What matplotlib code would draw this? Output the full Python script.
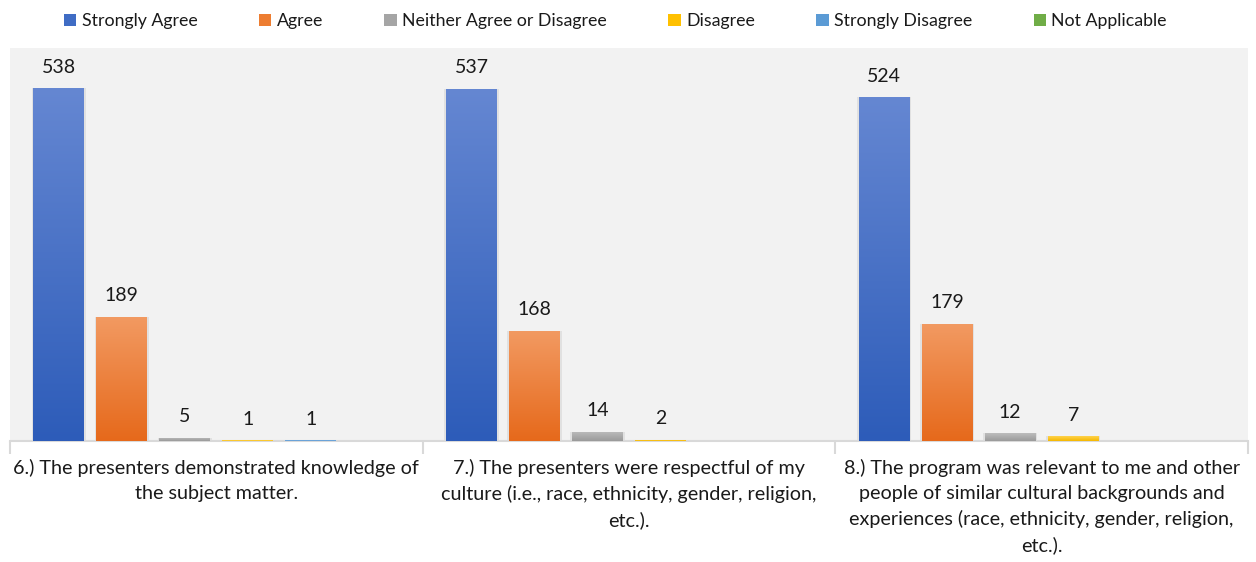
import numpy as np
import matplotlib
matplotlib.use("Agg")
import matplotlib.pyplot as plt
from matplotlib.patches import Patch
from matplotlib.colors import LinearSegmentedColormap

categories = [
    "6.) The presenters demonstrated knowledge of\nthe subject matter.",
    "7.) The presenters were respectful of my\nculture (i.e., race, ethnicity, gender, religion,\netc.).",
    "8.) The program was relevant to me and other\npeople of similar cultural backgrounds and\nexperiences (race, ethnicity, gender, religion,\netc.).",
]
series_names = ["Strongly Agree", "Agree", "Neither Agree or Disagree",
                "Disagree", "Strongly Disagree", "Not Applicable"]
strongly_agree = [538, 537, 524]
agree = [189, 168, 179]
neither = [5, 14, 12]
disagree = [1, 2, 7]
strongly_disagree = [1, None, None]
not_applicable = [None, None, None]
series_values = [strongly_agree, agree, neither, disagree, strongly_disagree, not_applicable]

legend_colors = ["#3f6cc4", "#ed7d31", "#a5a5a5", "#ffc000", "#5b9bd5", "#70ad47"]
grad_top = ["#6587d2", "#f29a62", "#bdbdbd", "#ffd24d", "#7fb2e0", "#8cc06a"]
grad_bot = ["#2d5cb9", "#e6691b", "#9a9a9a", "#f5b800", "#4a8ccb", "#5f9a3a"]

plt.rcParams['font.family'] = ['Lato', 'DejaVu Sans']

fig = plt.figure(figsize=(12.56, 5.62), dpi=100)
ax = fig.add_axes([10/1256, (562-441)/562, (1248-10)/1256, (441-48)/562])
ax.set_facecolor("#f2f2f2")

n = len(series_names)
spacing = 63/412.7
width = 51/412.7
x = np.arange(len(categories))
ax.set_xlim(-0.5, len(categories)-0.5)
ax.set_ylim(0, 599)

for i, (name, vals) in enumerate(zip(series_names, series_values)):
    offs = (i - (n-1)/2) * spacing
    for j, v in enumerate(vals):
        if v is None:
            continue
        xc = x[j] + offs
        # soft shadow
        ax.bar(xc, v, width=width*1.06, color="#d6d6d6", alpha=0.6, zorder=1)
        bars = ax.bar(xc, v, width=width, color=legend_colors[i], zorder=2)
        cmap = LinearSegmentedColormap.from_list("g", [grad_bot[i], grad_top[i]])
        grad = np.linspace(0, 1, 256).reshape(-1, 1)
        im = ax.imshow(grad, extent=[xc-width/2, xc+width/2, 0, v], origin="lower",
                       cmap=cmap, aspect="auto", zorder=3)
        im.set_clip_path(bars.patches[0])
        ax.annotate(str(v), (xc, v), xytext=(0, 9), textcoords="offset points",
                    ha="center", va="bottom", fontsize=14, color="#1a1a1a", zorder=4)

for s in ["top", "right", "left"]:
    ax.spines[s].set_visible(False)
ax.spines["bottom"].set_color("#d9d9d9")
ax.spines["bottom"].set_linewidth(1.5)
ax.set_yticks([])
ax.set_xticks([-0.5, 0.5, 1.5, 2.5])
ax.set_xticklabels([])
ax.tick_params(axis="x", length=9, width=1.5, color="#d9d9d9")

for j, cat in enumerate(categories):
    ax.annotate(cat, (x[j], 0), xytext=(0, -13), textcoords="offset points",
                ha="center", va="top", fontsize=14.2, color="#1a1a1a",
                linespacing=1.55, annotation_clip=False)

handles = [Patch(facecolor=c, edgecolor="none") for c in legend_colors]
fig.legend(handles, series_names, loc="upper center", bbox_to_anchor=(0.49, 1.005),
           ncol=6, frameon=False, fontsize=12.8, handlelength=0.7, handleheight=0.7,
           handletextpad=0.3, columnspacing=3.45, labelcolor="#1a1a1a")

fig.savefig("out.png", dpi=100, facecolor="white")
